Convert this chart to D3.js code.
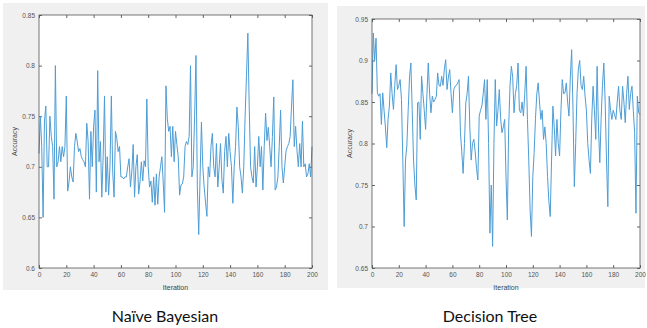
<!DOCTYPE html>
<html><head><meta charset="utf-8">
<script src="https://cdn.jsdelivr.net/npm/d3@7"></script>
<style>body{margin:0;background:#fff}svg{display:block}</style>
</head><body>
<svg id="c" width="647" height="328"></svg>
<script>
const nbAccuracy = [
0.713,0.75,0.72,0.65,0.745,0.76,0.70,0.70,0.75,0.73,
0.72,0.668,0.80,0.70,0.705,0.72,0.705,0.72,0.71,0.72,
0.77,0.676,0.685,0.70,0.69,0.685,0.72,0.733,0.725,0.715,
0.718,0.71,0.707,0.705,0.70,0.743,0.725,0.668,0.735,0.70,
0.74,0.756,0.675,0.795,0.705,0.725,0.67,0.71,0.77,0.675,
0.71,0.672,0.70,0.77,0.695,0.67,0.735,0.728,0.715,0.72,
0.69,0.69,0.688,0.69,0.69,0.70,0.708,0.68,0.695,0.722,
0.67,0.70,0.712,0.673,0.685,0.705,0.686,0.706,0.70,0.767,
0.70,0.68,0.686,0.665,0.69,0.662,0.693,0.663,0.69,0.70,
0.71,0.685,0.655,0.78,0.748,0.735,0.74,0.71,0.74,0.705,
0.735,0.722,0.71,0.672,0.682,0.683,0.69,0.72,0.725,0.722,
0.73,0.80,0.69,0.70,0.75,0.81,0.68,0.633,0.69,0.744,
0.70,0.68,0.665,0.651,0.70,0.69,0.72,0.733,0.70,0.69,
0.723,0.68,0.70,0.723,0.687,0.674,0.715,0.73,0.70,0.733,
0.715,0.70,0.664,0.70,0.72,0.759,0.74,0.70,0.69,0.674,
0.70,0.75,0.79,0.832,0.76,0.70,0.69,0.684,0.72,0.68,
0.70,0.73,0.70,0.72,0.677,0.72,0.753,0.726,0.739,0.72,
0.70,0.73,0.769,0.677,0.68,0.69,0.72,0.756,0.70,0.684,
0.70,0.716,0.72,0.723,0.73,0.76,0.786,0.72,0.74,0.716,
0.70,0.723,0.70,0.745,0.70,0.703,0.69,0.693,0.703,0.69,
0.72];
const dtAccuracy = [
0.86,0.933,0.90,0.927,0.861,0.857,0.86,0.823,0.861,0.84,
0.82,0.795,0.83,0.845,0.885,0.86,0.841,0.87,0.895,0.865,
0.87,0.877,0.853,0.78,0.70,0.78,0.797,0.84,0.88,0.897,
0.841,0.78,0.75,0.732,0.849,0.85,0.805,0.881,0.86,0.84,
0.817,0.86,0.897,0.86,0.837,0.857,0.85,0.853,0.857,0.885,
0.87,0.869,0.881,0.87,0.89,0.901,0.865,0.88,0.889,0.86,
0.837,0.865,0.869,0.87,0.873,0.877,0.813,0.79,0.764,0.80,
0.849,0.86,0.881,0.82,0.78,0.80,0.805,0.79,0.77,0.756,
0.833,0.84,0.845,0.86,0.877,0.829,0.877,0.80,0.692,0.75,
0.676,0.80,0.877,0.821,0.84,0.865,0.83,0.813,0.82,0.829,
0.76,0.708,0.82,0.87,0.893,0.88,0.837,0.86,0.87,0.897,
0.84,0.837,0.85,0.833,0.86,0.893,0.829,0.78,0.72,0.688,
0.76,0.789,0.83,0.86,0.873,0.85,0.829,0.84,0.805,0.82,
0.80,0.76,0.73,0.712,0.78,0.845,0.82,0.785,0.829,0.80,
0.785,0.84,0.877,0.86,0.861,0.873,0.85,0.833,0.88,0.913,
0.84,0.748,0.80,0.86,0.89,0.90,0.87,0.865,0.881,0.857,
0.84,0.80,0.78,0.764,0.83,0.869,0.84,0.805,0.893,0.82,
0.777,0.83,0.87,0.897,0.85,0.78,0.724,0.857,0.84,0.829,
0.84,0.835,0.829,0.85,0.869,0.84,0.829,0.869,0.85,0.825,
0.86,0.881,0.841,0.86,0.869,0.84,0.813,0.716,0.857,0.837,
0.835];
const xTicks = [0,20,40,60,80,100,120,140,160,180,200];
const nbYTicks = [0.6,0.65,0.7,0.75,0.8,0.85];
const dtYTicks = [0.65,0.7,0.75,0.8,0.85,0.9,0.95];
const titles = ["Naïve Bayesian","Decision Tree"];

const svg = d3.select("#c");
const panels = [
  {data:nbAccuracy, yDomain:[0.6,0.85], yTicks:nbYTicks, title:titles[0],
   bg:[3,3,325,287], plot:[39,15,312,268], ylabX:17, titleX:165},
  {data:dtAccuracy, yDomain:[0.65,0.95], yTicks:dtYTicks, title:titles[1],
   bg:[337,6,308,282], plot:[372,19,640,268], ylabX:352, titleX:490}
];
const fmt = d => String(+d.toFixed(2));
panels.forEach(p=>{
  const [l,t,r,b] = p.plot;
  svg.append("rect").attr("x",p.bg[0]).attr("y",p.bg[1]).attr("width",p.bg[2]).attr("height",p.bg[3]).attr("fill","#f0f0f0");
  svg.append("rect").attr("x",l).attr("y",t).attr("width",r-l).attr("height",b-t).attr("fill","#fff");
  const x = d3.scaleLinear().domain([0,200]).range([l,r]);
  const y = d3.scaleLinear().domain(p.yDomain).range([b,t]);
  const g = svg.append("g");
  const style = sel => {
    sel.select(".domain").remove();
    sel.selectAll("line").attr("stroke","#666");
    sel.selectAll("text").attr("fill","#555").attr("font-family","Liberation Sans, Arial, sans-serif").attr("font-size","6.5px");
  };
  g.append("g").attr("transform",`translate(0,${b})`)
    .call(d3.axisBottom(x).tickValues(xTicks).tickSize(-3).tickPadding(4)).call(style);
  g.append("g").attr("transform",`translate(0,${t})`)
    .call(d3.axisTop(x).tickValues(xTicks).tickSize(-3).tickFormat("")).call(style);
  g.append("g").attr("transform",`translate(${l},0)`)
    .call(d3.axisLeft(y).tickValues(p.yTicks).tickSize(-3).tickPadding(4).tickFormat(fmt)).call(style);
  g.append("g").attr("transform",`translate(${r},0)`)
    .call(d3.axisRight(y).tickValues(p.yTicks).tickSize(-3).tickFormat("")).call(style);
  const line = d3.line().x((d,i)=>x(i)).y(d=>y(d));
  svg.append("path").datum(p.data).attr("d",line).attr("fill","none")
    .attr("stroke","#4d9dd6").attr("stroke-width",1).attr("stroke-linejoin","round");
  svg.append("rect").attr("x",l).attr("y",t).attr("width",r-l).attr("height",b-t)
    .attr("fill","none").attr("stroke","#555").attr("stroke-width",0.8);
  svg.append("text").attr("x",(l+r)/2).attr("y",b+22).attr("text-anchor","middle")
    .attr("font-family","Liberation Sans, Arial, sans-serif").attr("font-size","7px").attr("fill","#444").text("Iteration");
  svg.append("text").attr("transform",`translate(${p.ylabX},${(t+b)/2}) rotate(-90)`).attr("text-anchor","middle")
    .attr("font-family","Liberation Sans, Arial, sans-serif").attr("font-size","7px").attr("fill","#444").text("Accuracy");
  svg.append("text").attr("x",p.titleX).attr("y",322).attr("text-anchor","middle")
    .attr("font-family","Lato, 'Open Sans', sans-serif").attr("font-size","16px").attr("fill","#111").text(p.title);
});
</script>
</body></html>
